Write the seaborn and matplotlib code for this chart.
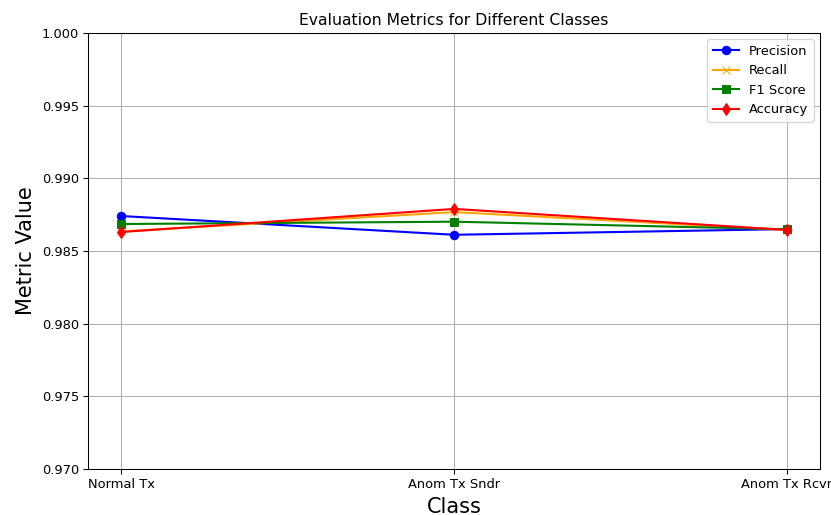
import pandas as pd
import matplotlib
matplotlib.use('Agg')
import matplotlib.pyplot as plt
import seaborn as sns

# data
classes = ['Normal Tx', 'Anom Tx Sndr', 'Anom Tx Rcvr']
precision = [0.98741, 0.98612, 0.98651]
recall = [0.98635, 0.98768, 0.98645]
f1_score = [0.98686, 0.98702, 0.98650]
accuracy = [0.98631, 0.98790, 0.98645]

series = [
    ('Precision', precision, 'blue', 'o'),
    ('Recall', recall, 'orange', 'x'),
    ('F1 Score', f1_score, 'green', 's'),
    ('Accuracy', accuracy, 'red', 'd'),
]

# keep matplotlib's default look (black text, grey grid)
plt.rcParams['font.family'] = ['DejaVu Sans']

DPI = 94
fig, ax = plt.subplots(figsize=(831 / DPI, 515 / DPI), dpi=DPI)
fig.subplots_adjust(left=0.106, right=0.987, top=0.936, bottom=0.089)

for name, vals, color, marker in series:
    df = pd.DataFrame({'Class': classes, 'Value': vals})
    sns.lineplot(data=df, x='Class', y='Value', color=color, marker=marker,
                 markersize=6.5, markeredgecolor=color, linewidth=1.6,
                 label=name, ax=ax, sort=False)

ax.set_ylim(0.97, 1.0)
ax.set_title('Evaluation Metrics for Different Classes', fontsize=12)
ax.set_xlabel('Class', fontsize=16)
ax.set_ylabel('Metric Value', fontsize=16)
ax.grid(True)
ax.legend(loc='upper right')

plt.savefig('out.png', dpi=DPI)
